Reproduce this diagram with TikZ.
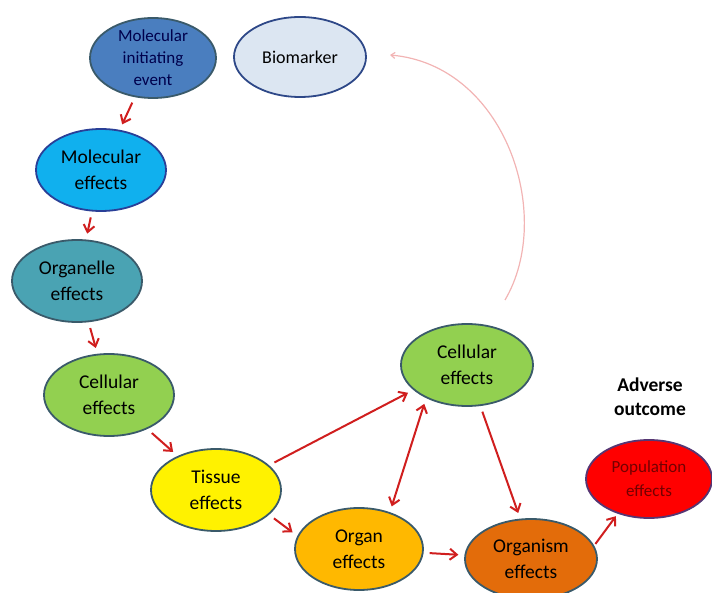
\documentclass[tikz,border=0pt]{standalone}
\usepackage{fontspec}
\setmainfont{Carlito}
\usetikzlibrary{shapes.geometric,arrows.meta}
\definecolor{mieblue}{HTML}{4A7EBF}
\definecolor{biofill}{HTML}{DCE6F2}
\definecolor{molblue}{HTML}{10B0EE}
\definecolor{orgteal}{HTML}{4AA3B3}
\definecolor{cellgreen}{HTML}{92D050}
\definecolor{organgold}{HTML}{FFB800}
\definecolor{organismor}{HTML}{E36C0A}
\definecolor{rimcol}{HTML}{3A5A6A}
\definecolor{arrred}{HTML}{D01E1E}
\definecolor{arcpink}{HTML}{F2B4B4}
\begin{document}
\begin{tikzpicture}[x=1pt,y=-1pt,
	bub/.style={ellipse,draw=rimcol,line width=1.8pt,minimum width=130pt,minimum height=82pt,inner sep=-2pt,align=center,font=\fontsize{19.5}{26}\selectfont},
	arr/.style={draw=arrred,line width=2pt,-{Straight Barb[length=7pt,width=11pt]},shorten <=6pt,shorten >=6pt}]
		\useasboundingbox (0,0) rectangle (712,593);
		% bubbles
		\node[bub,fill=mieblue,text=black!70!blue,minimum width=126pt,minimum height=80pt,inner ysep=-10pt,font=\fontsize{17}{22}\selectfont] (mie) at (153,58) {Molecular\\initiating\\event};
		\node[bub,fill=biofill,draw=rimcol!80!blue,minimum width=132pt,minimum height=80pt,font=\fontsize{18}{26}\selectfont] (bio) at (300,57) {Biomarker};
		\node[bub,fill=molblue,draw=rimcol!70!blue] (mol) at (101,170) {Molecular\\effects};
		\node[bub,fill=orgteal] (organelle) at (77,281) {Organelle\\effects};
		\node[bub,fill=cellgreen] (cellL) at (109,395) {Cellular\\effects};
		\node[bub,fill=yellow] (tissue) at (216,490) {Tissue\\effects};
		\node[bub,fill=organgold,minimum width=128pt] (organ) at (359,549) {Organ\\effects};
		\node[bub,fill=cellgreen,minimum width=132pt] (cellR) at (467,365) {Cellular\\effects};
		\node[bub,fill=organismor,minimum width=132pt,minimum height=80pt] (organism) at (531,559) {Organism\\effects};
		\node[bub,fill=red,draw=rimcol!60!violet,text=red!45!black,minimum width=126pt,minimum height=78pt,font=\fontsize{17}{24}\selectfont] (pop) at (649,479) {Population\\effects};
		\node[align=center,font=\bfseries\fontsize{19.5}{24}\selectfont] (adverse) at (650,397) {Adverse\\outcome};
		% pathway arrows
		\draw[arr] (mie) -- (mol);
		\draw[arr] (mol) -- (organelle);
		\draw[arr] (organelle) -- (cellL);
		\draw[arr] (cellL) -- (tissue);
		\draw[arr] (tissue.25) -- (cellR.205);
		\draw[arr] (tissue.-25) -- (organ.168);
		\draw[arr,{Straight Barb[length=7pt,width=11pt]}-{Straight Barb[length=7pt,width=11pt]}] (organ.50) -- (cellR.219);
		\draw[arr] (cellR.-72) -- (organism.105);
		\draw[arr] (organ) -- (organism);
		\draw[arr,shorten <=2pt,shorten >=3pt] (organism.12) -- (pop.228);
		% feedback to biomarker
		\coordinate (arcstart) at (505,300);
		\coordinate (arcend) at (390,55);
		\draw[arcpink,line width=1.2pt,-{Straight Barb[length=4pt,width=6pt]}] (arcstart) .. controls (555,215) and (505,65) .. (arcend);
	\end{tikzpicture}
\end{document}
